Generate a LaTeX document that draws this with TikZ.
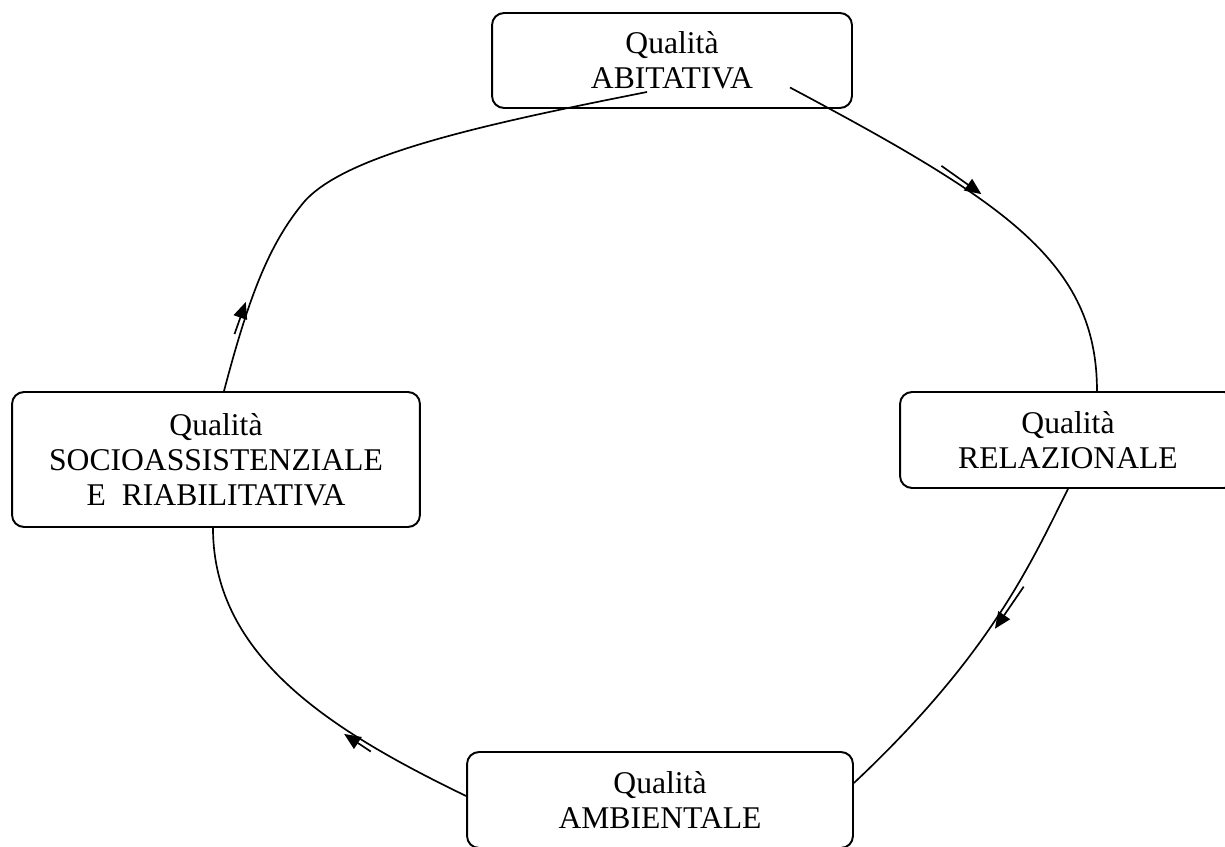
\documentclass[tikz,border=0pt]{standalone}
\usepackage{fontspec}
\setmainfont{Liberation Serif}
\usetikzlibrary{calc,arrows.meta,decorations.markings}

\tikzset{
  quality/.style={draw, line width=1.1pt, rounded corners=0.24cm, align=center,
    font=\fontsize{18}{20}\selectfont, inner sep=0pt},
  linkline/.style={line width=0.95pt},
  flowmark/.style 2 args={postaction={decorate}, decoration={markings,
      mark=at position #1 with {\draw[line width=0.95pt,-{Triangle[length=0.33cm,width=0.28cm]}]
        (-#2,0.09cm) -- (0,0.09cm);}}}
}

\begin{document}
\begin{tikzpicture}[x=0.02cm, y=-0.02cm]
    % Page frame
    \clip (0,0) rectangle (1225,847);

    % Define the four quality boxes
    \node[quality, minimum width=7.2cm, minimum height=1.9cm] (abit) at (672,60.5) {Qualità\\ABITATIVA};
    \node[quality, minimum width=6.72cm, minimum height=1.92cm] (rel) at (1068,440) {Qualità\\RELAZIONALE};
    \node[quality, minimum width=8.16cm, minimum height=2.7cm] (soc) at (216,459.5) {Qualità\\SOCIOASSISTENZIALE\\E\ \ RIABILITATIVA};
    \node[quality, minimum width=7.72cm, minimum height=1.92cm] (amb) at (660,800) {Qualità\\AMBIENTALE};

    % Draw the cycle, clockwise
    \draw[linkline, flowmark={0.48}{0.98cm}] ($(abit.center)+(118,27)$)
        .. controls (1005,202) and (1097,262) .. ($(rel.north)+(29,0)$);
    \draw[linkline, flowmark={0.43}{1.02cm}] (rel.south)
        .. controls (1030,565) and (990,655) .. ($(amb.east)+(0,-17)$);
    \draw[linkline, flowmark={0.35}{0.64cm}] ($(amb.west)+(0,-4)$)
        .. controls (334,732) and (213,658) .. ($(soc.south)+(-3,0)$);
    \draw[linkline, flowmark={0.16}{0.68cm}] ($(soc.north)+(8,0)$)
        .. controls (248,300) and (268,245) .. (304,202)
        .. controls (345,155) and (480,125) .. ($(abit.center)+(-25,31.5)$);

\end{tikzpicture}
\end{document}
